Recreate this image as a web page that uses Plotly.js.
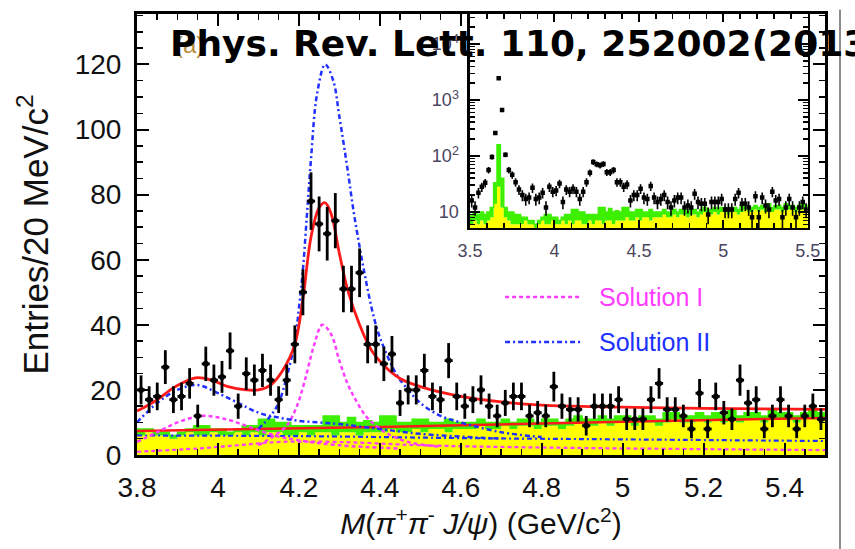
<!DOCTYPE html>
<html>
<head>
<meta charset="utf-8">
<script src="https://cdn.plot.ly/plotly-3.0.1.min.js"></script>
<style>html,body{margin:0;padding:0;background:#fff;}#chart{width:855px;height:549px;}</style>
</head>
<body>
<div id="chart"></div>
<script>
// ---------- main panel: M(pi+pi- J/psi), 20 MeV bins ----------
const massCenters = [3.81,3.83,3.85,3.87,3.89,3.91,3.93,3.95,3.97,3.99,
  4.01,4.03,4.05,4.07,4.09,4.11,4.13,4.15,4.17,4.19,
  4.21,4.23,4.25,4.27,4.29,4.31,4.33,4.35,4.37,4.39,
  4.41,4.43,4.45,4.47,4.49,4.51,4.53,4.55,4.57,4.59,
  4.61,4.63,4.65,4.67,4.69,4.71,4.73,4.75,4.77,4.79,
  4.81,4.83,4.85,4.87,4.89,4.91,4.93,4.95,4.97,4.99,
  5.01,5.03,5.05,5.07,5.09,5.11,5.13,5.15,5.17,5.19,
  5.21,5.23,5.25,5.27,5.29,5.31,5.33,5.35,5.37,5.39,
  5.41,5.43,5.45,5.47,5.49];
const dataCounts = [20,17,18,27,17,18,22,12,28,23,
  24,32,15,25,23,26,23,17,23,34,
  50,78,71,68,72,51,51,56,34,34,
  28,31,16,20,20,26,18,17,29,18,
  15,17,20,15,12,16,18,18,12,13,
  12,21,15,14,14,9,15,15,15,17,
  11,11,11,17,22,14,14,12,8,19,
  8,18,13,11,23,16,17,8,12,17,
  12,8,12,15,11];
const yellowBkg = [6,7,6,6,5,6,7,6,6,7,
  6,6,7,6,7,6,7,7,6,6,
  7,6,7,7,6,7,7,6,7,7,
  7,8,7,7,8,7,8,8,7,8,
  8,8,9,8,8,9,8,9,9,8,
  9,9,8,9,10,9,9,10,9,10,
  10,9,10,10,9,10,11,10,10,11,
  10,11,10,11,10,11,11,10,11,11,
  11,10,11,11,11];
const greenBkg = [8,8,7,7,6,7,8,9,9,8,
  8,7,8,9,9,11,11,10,10,9,
  9,9,9,12,12,10,11.5,10,10.5,10,
  12,12,10,10,11,11,10,10,11,10,
  10,10,11,10,10,11,10,11,11,10,
  11,11,10,11,12,11,11,12,11,12,
  12,11,12,12,11,13,13,12,12,13,
  12,13,12,14,12,13,13,12,14,13,
  13,12,13,14,13];

// fit curves
const totalFitX = [3.80,3.845,3.895,3.945,3.985,4.025,4.07,4.10,4.13,4.16,4.19,4.21,4.23,4.25,4.265,4.28,4.30,4.32,4.35,4.38,4.41,4.45,4.50,4.60,4.70,4.80,5.00,5.20,5.50];
const totalFitY = [13.5,16.6,21,23.7,23,21,20,20,21.5,26,34,48,67,76,77.5,74,62,51,40,32,27.5,23.5,21,18,16.3,15.3,14.7,14.3,14];
const bkgFitX = [3.80,4.40,5.00,5.50];
const bkgFitY = [7.4,8.6,10.2,11.4];

const sol1BumpX = [3.80,3.85,3.90,3.96,4.02,4.08,4.14,4.20,4.30,4.45];
const sol1BumpY = [4,7,10,12,11,8.5,6,4.5,3,2];
const sol1PeakX = [4.10,4.14,4.17,4.195,4.215,4.237,4.258,4.28,4.30,4.32,4.34,4.365,4.39,4.42,4.47,4.55];
const sol1PeakY = [3,6,9,15,23,33.5,40,37,29,22,17,12,9,6.5,4,2.5];
const sol1LowX = [3.80,3.95,4.05,4.15,4.30,4.50,4.80,5.50];
const sol1LowY = [1,2,3,4,4,3,2.3,1.5];

const sol2BumpX = [3.80,3.85,3.90,3.95,4.00,4.05,4.10,4.15,4.20,4.25,4.30,4.40,4.50,4.70];
const sol2BumpY = [10,16,20,21.5,19,16,13,11.5,10.5,10,9.5,8,6.5,5];
const sol2PeakX = [4.10,4.13,4.15,4.17,4.19,4.20,4.21,4.22,4.23,4.245,4.265,4.285,4.30,4.32,4.335,4.35,4.365,4.38,4.395,4.41,4.44,4.47,4.50,4.55,4.60,4.70,4.80];
const sol2PeakY = [8,12,16,24,35,45,57,74,91,111,120,115,104,88,75,64,54,45,38,33,25,20,16,12,10,7,5.5];
const sol2LowX = [3.80,4.20,4.60,5.00,5.50];
const sol2LowY = [6,5.8,5.2,4.8,4.3];

// ---------- inset: wide range 3.5-5.5, log scale ----------
const insetLowCenters = [3.51,3.53,3.55,3.57,3.59,3.61,3.63,3.65,3.67,3.69,3.71,3.73,3.75,3.77,3.79];
const insetLowCounts  = [16,12,22,28,33,56,96,258,2450,660,105,56,46,34,25];
const insetLowGreen   = [9,10,9,10,9,10,12,33,158,40,12,10,10,9,9];
const insetLowYellow  = [6,7,6,7,6,7,8,14,28,12,8,7,6,6,6];

const xTickVals = [3.8,4,4.2,4.4,4.6,4.8,5,5.2,5.4];
const xTickText = ["3.8","4","4.2","4.4","4.6","4.8","5","5.2","5.4"];
const yTickVals = [0,20,40,60,80,100,120];
const insetXTicks = [3.5,4,4.5,5,5.5];
const insetXText = ["3.5","4","4.5","5","5.5"];
const insetYTicks = [10,100,1000,10000];
const insetYText = ["10","10<sup>2</sup>","10<sup>3</sup>","10<sup>4</sup>"];

// ---------- helpers ----------
function steps(centers, vals, hw){
  const xs=[], ys=[];
  for(let i=0;i<centers.length;i++){ xs.push(centers[i]-hw, centers[i]+hw); ys.push(vals[i], vals[i]); }
  return {x:xs, y:ys};
}
const HALF = 0.01;
const RED='#ff1a1a', BLUE='#2030ff', MAG='#ff3cff', GREEN='#3cf000', YEL='#ffff00';

const yS = steps(massCenters, yellowBkg, HALF);
const gS = steps(massCenters, greenBkg, HALF);
const inCenters = insetLowCenters.concat(massCenters);
const inCounts = insetLowCounts.concat(dataCounts);
const iyS = steps(inCenters, insetLowYellow.concat(yellowBkg), HALF);
const igS = steps(inCenters, insetLowGreen.concat(greenBkg), HALF);

const traces = [
  {x:yS.x, y:yS.y, mode:'lines', line:{width:0, color:YEL}, fill:'tozeroy', fillcolor:YEL, hoverinfo:'skip'},
  {x:gS.x, y:gS.y, mode:'lines', line:{width:1.5, color:GREEN}, fill:'tonexty', fillcolor:GREEN, hoverinfo:'skip'},
  {x:sol1LowX, y:sol1LowY, mode:'lines', line:{color:MAG, width:2.2, dash:'4px,3px', shape:'spline'}},
  {x:sol2LowX, y:sol2LowY, mode:'lines', line:{color:BLUE, width:2.2, dash:'5px,3px,2px,3px', shape:'spline'}},
  {x:bkgFitX, y:bkgFitY, mode:'lines', line:{color:RED, width:2.5, shape:'spline'}},
  {x:sol1BumpX, y:sol1BumpY, mode:'lines', line:{color:MAG, width:2.5, dash:'4px,3px', shape:'spline'}},
  {x:sol1PeakX, y:sol1PeakY, mode:'lines', line:{color:MAG, width:2.5, dash:'4px,3px', shape:'spline'}},
  {x:sol2BumpX, y:sol2BumpY, mode:'lines', line:{color:BLUE, width:2.5, dash:'5px,3px,2px,3px', shape:'spline'}},
  {x:sol2PeakX, y:sol2PeakY, mode:'lines', line:{color:BLUE, width:2.5, dash:'5px,3px,2px,3px', shape:'spline'}},
  {x:totalFitX, y:totalFitY, mode:'lines', line:{color:RED, width:2.8, shape:'spline'}},
  {x:massCenters, y:dataCounts, mode:'markers', marker:{color:'#000', size:6},
    error_y:{type:'sqrt', color:'#000', thickness:2.8, width:0},
    error_x:{type:'constant', value:HALF, color:'#000', thickness:2.8, width:0}},
  // inset
  {x:iyS.x, y:iyS.y, xaxis:'x2', yaxis:'y2', mode:'lines', line:{width:0, color:YEL}, fill:'tozeroy', fillcolor:YEL, hoverinfo:'skip'},
  {x:igS.x, y:igS.y, xaxis:'x2', yaxis:'y2', mode:'lines', line:{width:1.5, color:GREEN}, fill:'tonexty', fillcolor:GREEN, hoverinfo:'skip'},
  {x:inCenters, y:inCounts, xaxis:'x2', yaxis:'y2', mode:'markers', marker:{color:'#000', size:4.5, symbol:'square'},
    error_y:{type:'sqrt', color:'#000', thickness:1.6, width:0},
    error_x:{type:'constant', value:HALF, color:'#000', thickness:1.6, width:0}}
];

const FAM = 'Liberation Sans, Arial, sans-serif';
const tickFont = {family:FAM, size:28, color:'#111'};
const insetFont = {family:FAM, size:18, color:'#4a4560'};

const layout = {
  width:855, height:549,
  margin:{l:137, r:30, t:14, b:94},
  paper_bgcolor:'#fff', plot_bgcolor:'#fff',
  showlegend:false,
  xaxis:{range:[3.8,5.5], tickmode:'array', tickvals:xTickVals, ticktext:xTickText,
    ticks:'inside', ticklen:12, tickwidth:2, tickcolor:'#000',
    minor:{dtick:0.05, ticks:'inside', ticklen:6, tickwidth:1.5, tickcolor:'#000'},
    showline:true, linewidth:3, linecolor:'#000', mirror:'ticks',
    showgrid:false, zeroline:false, tickfont:tickFont, ticklabelstandoff:5,
    title:{text:'<i>M</i>(<i>π</i><sup>+</sup><i>π</i><sup>-</sup> <i>J/ψ</i>) (GeV/c<sup>2</sup>)',
      font:{family:FAM, size:30, color:'#111'}, standoff:2}},
  yaxis:{range:[0,135.5], tickmode:'array', tickvals:yTickVals,
    ticks:'inside', ticklen:12, tickwidth:2, tickcolor:'#000',
    minor:{dtick:5, ticks:'inside', ticklen:6, tickwidth:1.5, tickcolor:'#000'},
    showline:true, linewidth:3, linecolor:'#000', mirror:'ticks',
    showgrid:false, zeroline:false, tickfont:tickFont, ticklabelstandoff:7,
    title:{text:'Entries/20 MeV/c<sup>2</sup>',
      font:{family:FAM, size:35, color:'#111'}, standoff:16}},
  xaxis2:{anchor:'y2', domain:[0.484,0.975], range:[3.5,5.5], tickmode:'array', tickvals:insetXTicks, ticktext:insetXText,
    ticks:'inside', ticklen:8, tickwidth:2, tickcolor:'#000',
    minor:{dtick:0.1, ticks:'inside', ticklen:5, tickwidth:1.5, tickcolor:'#000'},
    showline:true, linewidth:2.5, linecolor:'#000', mirror:'ticks',
    showgrid:false, zeroline:false, tickfont:insetFont, ticklabelstandoff:5},
  yaxis2:{anchor:'x2', domain:[0.515,1.0], type:'log', range:[0.714,4.536], tickmode:'array',
    tickvals:insetYTicks, ticktext:insetYText,
    ticks:'inside', ticklen:10, tickwidth:2, tickcolor:'#000',
    minor:{dtick:'D1', ticks:'inside', ticklen:5, tickwidth:1.5, tickcolor:'#000'},
    showline:true, linewidth:2.5, linecolor:'#000', mirror:'ticks',
    showgrid:false, zeroline:false, tickfont:insetFont, ticklabelstandoff:5},
  shapes:[
    {type:'line', xref:'paper', yref:'paper', x0:0.535, x1:0.644, y0:0.358, y1:0.358, line:{color:MAG, width:2.5, dash:'4px,3px'}},
    {type:'line', xref:'paper', yref:'paper', x0:0.535, x1:0.644, y0:0.256, y1:0.256, line:{color:BLUE, width:2.5, dash:'5px,3px,2px,3px'}},
    {type:'line', xref:'paper', yref:'paper', x0:1.0218, x1:1.0218, y0:-0.215, y1:1.01, line:{color:'#8c8c8c', width:2}}
  ],
  annotations:[
    {xref:'paper', yref:'paper', x:0.669, y:0.358, xanchor:'left', yanchor:'middle', showarrow:false,
      text:'Solution I', font:{family:FAM, size:25, color:MAG}},
    {xref:'paper', yref:'paper', x:0.669, y:0.256, xanchor:'left', yanchor:'middle', showarrow:false,
      text:'Solution II', font:{family:FAM, size:25, color:BLUE}},
    {xref:'paper', yref:'paper', x:0.052, y:0.93, xanchor:'left', yanchor:'middle', showarrow:false,
      text:'(a)', font:{family:FAM, size:24, color:'#b88a3a'}},
    {xref:'paper', yref:'paper', x:0.045, y:0.934, xanchor:'left', yanchor:'middle', showarrow:false,
      text:'<b>Phys. Rev. Lett. 110, 252002(2013)</b>', font:{family:'DejaVu Sans, sans-serif', size:36, color:'#000'}}
  ]
};

Plotly.newPlot('chart', traces, layout, {staticPlot:true, displayModeBar:false});
</script>
</body>
</html>
